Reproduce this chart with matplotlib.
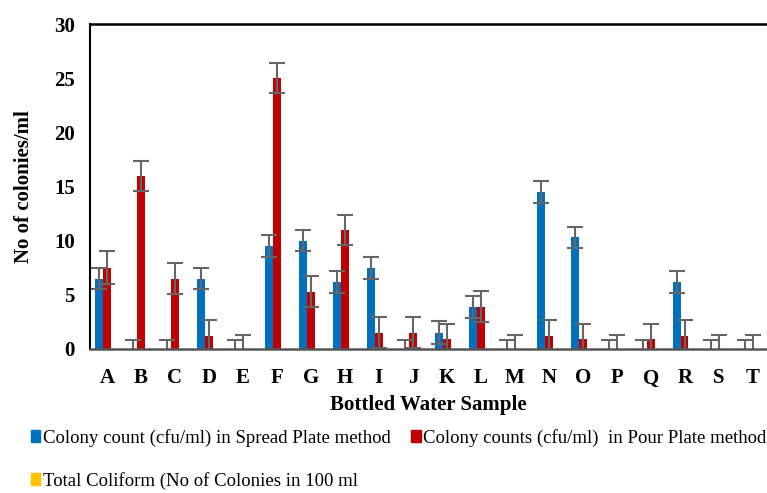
import matplotlib
matplotlib.use('Agg')
import matplotlib.pyplot as plt
import matplotlib.patches as patches
import numpy as np

samples = list("ABCDEFGHIJKLMNOPQRST")
spread = [6.5, 0, 0, 6.5, 0, 9.5, 10.0, 6.2, 7.5, 0, 1.5, 3.9, 0, 14.5, 10.3, 0, 0, 6.2, 0, 0]
spread_err = [1.0, 0.85, 0.85, 1.0, 0.85, 1.05, 1.0, 1.0, 1.0, 0.85, 1.05, 1.0, 0.85, 1.0, 1.0, 0.85, 0.85, 1.0, 0.85, 0.85]
pour = [7.5, 16.0, 6.5, 1.2, 0, 25.0, 5.3, 11.0, 1.5, 1.5, 0.9, 3.9, 0, 1.2, 0.9, 0, 0.9, 1.2, 0, 0]
pour_err = [1.5, 1.4, 1.45, 1.5, 1.3, 1.4, 1.45, 1.4, 1.45, 1.45, 1.4, 1.45, 1.3, 1.45, 1.45, 1.3, 1.45, 1.45, 1.3, 1.3]
coliform = [0] * 20

labels = ["Colony count (cfu/ml) in Spread Plate method",
          "Colony counts (cfu/ml)  in Pour Plate method",
          "Total Coliform (No of Colonies in 100 ml"]
colors = ['#0070C0', '#C00000', '#FFC000']

SERIF = ['Liberation Serif', 'DejaVu Serif']

fig = plt.figure(figsize=(7.67, 4.93), dpi=100)
ax = fig.add_axes([0.1173, 0.2921, 0.8827, 0.6592])

x = np.arange(len(samples))
w = 0.22
err_kw = dict(ecolor='#666666', elinewidth=1.5, capsize=6, capthick=1.5)
ax.bar(x - 0.235, spread, w, yerr=spread_err, color=colors[0], error_kw=err_kw)
ax.bar(x, pour, w, yerr=pour_err, color=colors[1], error_kw=err_kw)
ax.bar(x + 0.235, coliform, w, color=colors[2])

ax.set_xlim(-0.5, 19.42)
ax.set_ylim(0, 30)
ax.set_yticks(range(0, 31, 5))
ax.set_xticks(x)
ax.set_xticklabels(samples, fontfamily=SERIF, fontweight='bold', fontsize=15)
ax.set_yticklabels([str(v) for v in range(0, 31, 5)], fontfamily=SERIF, fontweight='bold', fontsize=15)
ax.tick_params(axis='both', length=0)
ax.tick_params(axis='x', pad=14)
ax.tick_params(axis='y', pad=11)

ax.spines['right'].set_visible(False)
ax.spines['left'].set_linewidth(1.5)
ax.spines['top'].set_linewidth(1.8)
ax.spines['bottom'].set_linewidth(1.8)
ax.spines['bottom'].set_color('#555555')

ax.set_xlabel("Bottled Water Sample", fontfamily=SERIF, fontweight='bold', fontsize=15, labelpad=5)
ax.set_ylabel("No of colonies/ml", fontfamily=SERIF, fontweight='bold', fontsize=15, labelpad=14)

handles = [patches.Patch(color=c) for c in colors]
order = [0, 2, 1]
fig.legend([handles[i] for i in order], [labels[i] for i in order],
           loc='lower left', bbox_to_anchor=(0.018, -0.028), ncol=2, frameon=False,
           handlelength=0.5, handleheight=0.6, handletextpad=0.15, columnspacing=1.1,
           labelspacing=1.35, prop={'family': SERIF, 'size': 13.5})

fig.savefig('out.png', dpi=100)
